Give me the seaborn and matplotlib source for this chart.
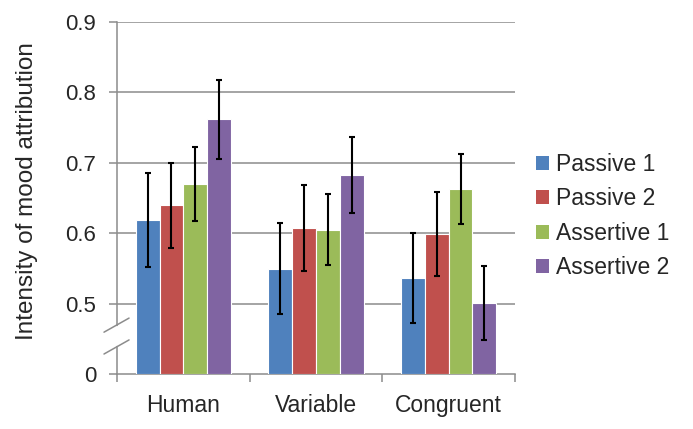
import numpy as np
import pandas as pd
import matplotlib
matplotlib.use("Agg")
import matplotlib.pyplot as plt
import seaborn as sns

categories = ["Human", "Variable", "Congruent"]
conditions = ["Passive 1", "Passive 2", "Assertive 1", "Assertive 2"]
passive1 = [0.619, 0.549, 0.537]
passive2 = [0.640, 0.608, 0.599]
assertive1 = [0.670, 0.604, 0.663]
assertive2 = [0.762, 0.682, 0.501]
err_lo = {
    "Passive 1": [0.552, 0.485, 0.473],
    "Passive 2": [0.579, 0.547, 0.539],
    "Assertive 1": [0.617, 0.555, 0.613],
    "Assertive 2": [0.705, 0.628, 0.449],
}
err_hi = {
    "Passive 1": [0.686, 0.615, 0.600],
    "Passive 2": [0.700, 0.668, 0.659],
    "Assertive 1": [0.722, 0.655, 0.713],
    "Assertive 2": [0.817, 0.737, 0.554],
}
yticks = [0, 0.5, 0.6, 0.7, 0.8, 0.9]
ytick_labels = ["0", "0.5", "0.6", "0.7", "0.8", "0.9"]
colors = ["#4F81BD", "#C0504D", "#9BBB59", "#8064A2"]

values = {"Passive 1": passive1, "Passive 2": passive2,
          "Assertive 1": assertive1, "Assertive 2": assertive2}
rows = []
for c in conditions:
    for i, cat in enumerate(categories):
        rows.append({"category": cat, "condition": c, "value": values[c][i]})
df = pd.DataFrame(rows)

sns.set_theme(style="white")
plt.rcParams["font.family"] = ["Liberation Sans", "DejaVu Sans"]

fig = plt.figure(figsize=(6.93, 4.29), dpi=100)
ax = fig.add_axes([0.169, 0.128, 0.574, 0.821])

BRK = 0.42
LOW = BRK - 0.4  # display value of the break point

def fwd(v):
    v = np.asarray(v, dtype=float)
    return np.where(v <= BRK, v * (LOW / BRK), v - 0.4)

def inv(u):
    u = np.asarray(u, dtype=float)
    return np.where(u <= LOW, u * (BRK / LOW), u + 0.4)

ax.set_yscale("function", functions=(fwd, inv))

sns.barplot(data=df, x="category", y="value", hue="condition",
            order=categories, hue_order=conditions, palette=colors,
            saturation=1, errorbar=None, width=0.72, edgecolor="white",
            linewidth=0.8, ax=ax, zorder=3)

for container, c in zip(ax.containers, conditions):
    for j, bar in enumerate(container):
        xc = bar.get_x() + bar.get_width() / 2
        v = values[c][j]
        ax.errorbar([xc], [v],
                    yerr=[[v - err_lo[c][j]], [err_hi[c][j] - v]],
                    fmt="none", ecolor="black", elinewidth=1.5,
                    capsize=2.5, capthick=1.5, zorder=4)

ax.set_ylim(0, 0.9)
ax.set_yticks(yticks)
ax.set_yticklabels(ytick_labels)
ax.set_xlim(-0.5, 2.5)

for g in [0.5, 0.6, 0.7, 0.8, 0.9]:
    ax.axhline(g, color="#8c8c8c", lw=1.1, zorder=1)

for s in ["top", "right"]:
    ax.spines[s].set_visible(False)
for s in ["left", "bottom"]:
    ax.spines[s].set_color("#8c8c8c")
    ax.spines[s].set_linewidth(1.1)

ax.tick_params(axis="y", which="major", length=6, width=1.1, color="#8c8c8c",
               direction="out", labelsize=16, pad=9, left=True)
ax.set_xticks([-0.5, 0.5, 1.5, 2.5], minor=True)
ax.tick_params(axis="x", which="minor", length=6, width=1.1, color="#8c8c8c",
               direction="out", bottom=True)
ax.tick_params(axis="x", which="major", length=0, labelsize=16.5, pad=14)
ax.set_xlabel("")
ax.set_ylabel("Intensity of mood attribution", fontsize=17.5)
ax.yaxis.set_label_coords(-0.198, 0.52)

# axis break marks
ax.plot([0, 0], [0.085, 0.13], transform=ax.transAxes, color="white",
        lw=3, clip_on=False, zorder=5)
for yb in [0.139, 0.077]:
    ax.plot([-0.033, 0.030], [yb - 0.02, yb + 0.02], transform=ax.transAxes,
            color="#8c8c8c", lw=1.1, clip_on=False, zorder=6)

leg = ax.legend(loc="center left", bbox_to_anchor=(0.774, 0.496),
                bbox_transform=fig.transFigure, frameon=False,
                fontsize=16.5, handlelength=0.55, handleheight=0.55,
                handletextpad=0.3, labelspacing=0.5, borderpad=0,
                borderaxespad=0)
for h in leg.legend_handles:
    h.set_edgecolor("none")

fig.savefig("out.png", dpi=100)
